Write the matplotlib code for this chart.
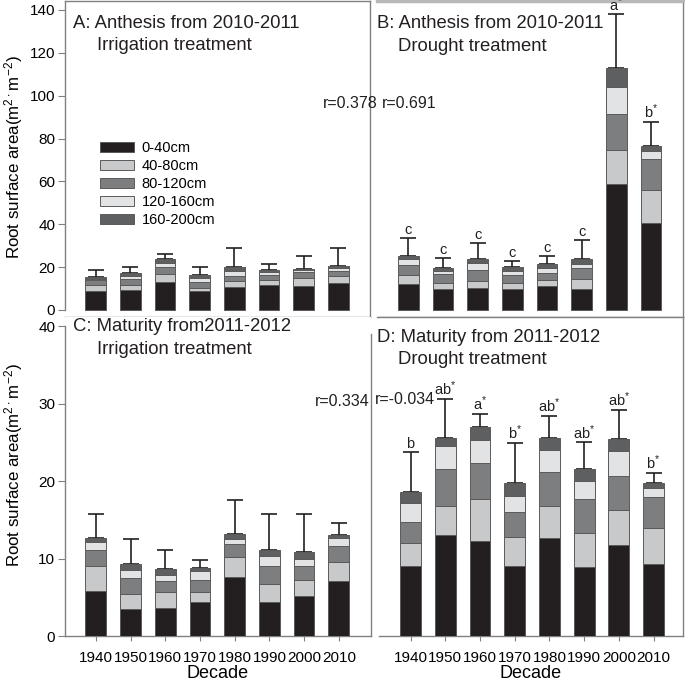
import numpy as np
import matplotlib
matplotlib.use("Agg")
import matplotlib.pyplot as plt

plt.rcParams['font.family'] = ['Liberation Sans', 'DejaVu Sans']
plt.rcParams['mathtext.default'] = 'regular'

decades = ['1940', '1950', '1960', '1970', '1980', '1990', '2000', '2010']
depths = ['0-40cm', '40-80cm', '80-120cm', '120-160cm', '160-200cm']

# per-layer root surface area, rows = decades, cols = depth layers
anthesis_irr = [[8.9, 2.6, 2.3, 0.6, 0.8],
                [9.2, 2.6, 2.7, 1.5, 1.3],
                [13.1, 3.9, 2.9, 2.0, 1.7],
                [9.0, 1.4, 2.5, 1.9, 1.4],
                [10.9, 2.6, 2.5, 2.2, 2.0],
                [11.7, 2.1, 2.5, 1.3, 1.1],
                [11.4, 3.7, 2.8, 0.8, 0.6],
                [12.8, 3.2, 2.4, 1.0, 1.0]]
anthesis_irr_err = [3.6, 2.6, 2.5, 4.0, 8.9, 2.6, 5.9, 8.4]

anthesis_dro = [[12.0, 4.3, 4.7, 2.6, 1.7],
                [9.8, 3.0, 3.8, 1.6, 1.2],
                [10.3, 3.2, 5.2, 3.4, 1.7],
                [10.0, 2.8, 3.5, 2.1, 1.5],
                [11.4, 2.4, 3.3, 2.3, 1.9],
                [9.8, 4.5, 5.1, 2.2, 2.2],
                [58.6, 15.9, 16.9, 12.8, 8.5],
                [40.7, 15.3, 14.3, 3.9, 2.5]]
anthesis_dro_err = [8.3, 5.0, 7.5, 3.1, 4.0, 8.9, 25.3, 11.0]
anthesis_dro_sig = ['c', 'c', 'c', 'c', 'c', 'c', 'a$^{*}$', 'b$^{*}$']

maturity_irr = [[5.84, 3.18, 2.06, 1.08, 0.51],
                [3.44, 2.02, 1.97, 1.07, 0.74],
                [3.65, 2.06, 1.38, 0.77, 0.73],
                [4.38, 1.33, 1.51, 1.16, 0.34],
                [7.56, 2.67, 1.59, 0.73, 0.64],
                [4.38, 2.32, 2.32, 1.29, 0.77],
                [5.20, 2.02, 1.80, 0.98, 0.87],
                [7.13, 2.37, 2.10, 0.99, 0.38]]
maturity_irr_err = [3.03, 3.22, 2.49, 1.12, 4.38, 4.72, 4.83, 1.55]

maturity_dro = [[9.02, 2.92, 2.80, 2.36, 1.50],
                [12.97, 3.83, 4.70, 3.00, 1.00],
                [12.20, 5.54, 4.52, 3.00, 1.72],
                [9.02, 3.78, 3.18, 2.11, 1.59],
                [12.67, 4.09, 4.38, 2.92, 1.54],
                [8.94, 4.34, 4.38, 2.36, 1.55],
                [11.73, 4.47, 4.47, 3.26, 1.51],
                [9.24, 4.76, 3.92, 1.16, 0.60]]
maturity_dro_err = [5.2, 5.1, 1.68, 5.24, 2.8, 3.43, 3.76, 1.37]
maturity_dro_sig = ['b', 'ab$^{*}$', 'a$^{*}$', 'b$^{*}$',
                    'ab$^{*}$', 'ab$^{*}$', 'ab$^{*}$', 'b$^{*}$']

colors = ['#231f20', '#c8c9ca', '#7d7e80', '#e2e3e4', '#5e5f61']
spine_col = '#808080'

W, H = 685, 683


def box(l, t, r, b):
    # pixel box -> figure fraction
    return [l / W, 1 - b / H, (r - l) / W, (b - t) / H]


def ftext(x, y, s, **kw):
    return fig.text(x / W, 1 - y / H, s, **kw)


def stacked(ax, vals, err, sig=None):
    vals = np.array(vals)
    x = np.arange(len(decades))
    bottom = np.zeros(len(decades))
    for i in range(len(depths)):
        ax.bar(x, vals[:, i], 0.6, bottom=bottom, color=colors[i],
               edgecolor='#5a5a5a', linewidth=0.7, label=depths[i], zorder=3)
        bottom += vals[:, i]
    ax.errorbar(x, bottom, yerr=[np.zeros(len(x)), err], fmt='none',
                ecolor='#231f20', elinewidth=1.2, capsize=5.5, capthick=1.2,
                zorder=2)
    if sig is not None:
        for xi, top, e, s in zip(x, bottom, err, sig):
            ax.annotate(s, (xi, top + e), xytext=(0, 0.5),
                        textcoords='offset points', ha='center', va='bottom',
                        fontsize=10.5, color='#231f20', annotation_clip=False)


def style(ax, xlim, ylim, left=False, bottom=False, top=True, right=True):
    ax.set_xlim(*xlim)
    ax.set_ylim(*ylim)
    for sp in ax.spines.values():
        sp.set_color(spine_col)
        sp.set_linewidth(1.0)
    ax.spines['left'].set_visible(left)
    ax.spines['top'].set_visible(top)
    ax.spines['right'].set_visible(right)
    ax.tick_params(axis='y', left=left, labelleft=left, direction='out',
                   length=5, width=0.8, color=spine_col, labelsize=11,
                   pad=2)
    ax.tick_params(axis='x', bottom=bottom, labelbottom=bottom,
                   direction='out', length=3.5, width=0.8, color=spine_col,
                   labelsize=11, pad=7)
    ax.set_xticks(np.arange(len(decades)))
    ax.set_xticklabels(decades)


fig = plt.figure(figsize=(6.85, 6.83), dpi=100)

ax_a = fig.add_axes(box(65, 1, 370, 316.7))
ax_b = fig.add_axes(box(377, 1, 683, 316.7))
ax_c = fig.add_axes(box(65, 316.7, 370.7, 636))
ax_d = fig.add_axes(box(379, 316.7, 683, 636))

ylim_top = (-3.13, 144.2)
ylim_bot = (0, 41.2)

stacked(ax_a, anthesis_irr, anthesis_irr_err)
style(ax_a, (-0.89, 7.92), ylim_top, left=True)
ax_a.set_yticks(np.arange(0, 141, 20))
ax_a.spines['left'].set_bounds(0, 144.2)

stacked(ax_b, anthesis_dro, anthesis_dro_err, anthesis_dro_sig)
style(ax_b, (-0.90, 7.92), ylim_top)
ax_b.spines['top'].set_linewidth(2.5)
ax_b.spines['top'].set_color('#b8b8b8')

stacked(ax_c, maturity_irr, maturity_irr_err)
style(ax_c, (-0.89, 7.92), ylim_bot, left=True, bottom=True, top=False)
ax_c.set_yticks(np.arange(0, 41, 10))
ax_c.spines['left'].set_bounds(0, 40)
ax_c.spines['right'].set_bounds(0, 39)

stacked(ax_d, maturity_dro, maturity_dro_err, maturity_dro_sig)
style(ax_d, (-0.91, 7.85), ylim_bot, bottom=True)

for ax in (ax_c, ax_d):
    ax.set_xlabel('Decade', fontsize=13, labelpad=0)

ax_a.legend(loc='upper left', bbox_to_anchor=(100 / W, 1 - 141 / H),
            bbox_transform=fig.transFigure, frameon=False, fontsize=10.5,
            handlelength=2.3, handleheight=0.7, handletextpad=0.55,
            labelspacing=0.27, borderpad=0, borderaxespad=0)

ylab = 'Root surface area(m$^{2\\cdot}$m$^{-2}$)'
ftext(14, 157, ylab, rotation=90, fontsize=12.2, ha='center', va='center')
ftext(14, 465, ylab, rotation=90, fontsize=12.2, ha='center', va='center')

tkw = dict(fontsize=13.3, color='#231f20', va='baseline')
ftext(73, 28, 'A: Anthesis from 2010-2011', **tkw)
ftext(97, 49.5, 'Irrigation treatment', **tkw)
ftext(377, 28, 'B: Anthesis from 2010-2011', **tkw)
ftext(398, 51, 'Drought treatment', **tkw)
ftext(73, 331, 'C: Maturity from2011-2012', **tkw)
ftext(97, 354, 'Irrigation treatment', **tkw)
ftext(377, 342, 'D: Maturity from 2011-2012', **tkw)
ftext(398, 364, 'Drought treatment', **tkw)

rkw = dict(fontsize=11.5, color='#231f20', va='center')
ftext(378, 103, 'r=0.378', ha='right', **rkw)
ftext(382, 103, 'r=0.691', ha='left', **rkw)
ftext(370, 402, 'r=0.334', ha='right', **rkw)
ftext(375, 400, 'r=-0.034', ha='left', **rkw)

plt.savefig('out.png', dpi=100)
